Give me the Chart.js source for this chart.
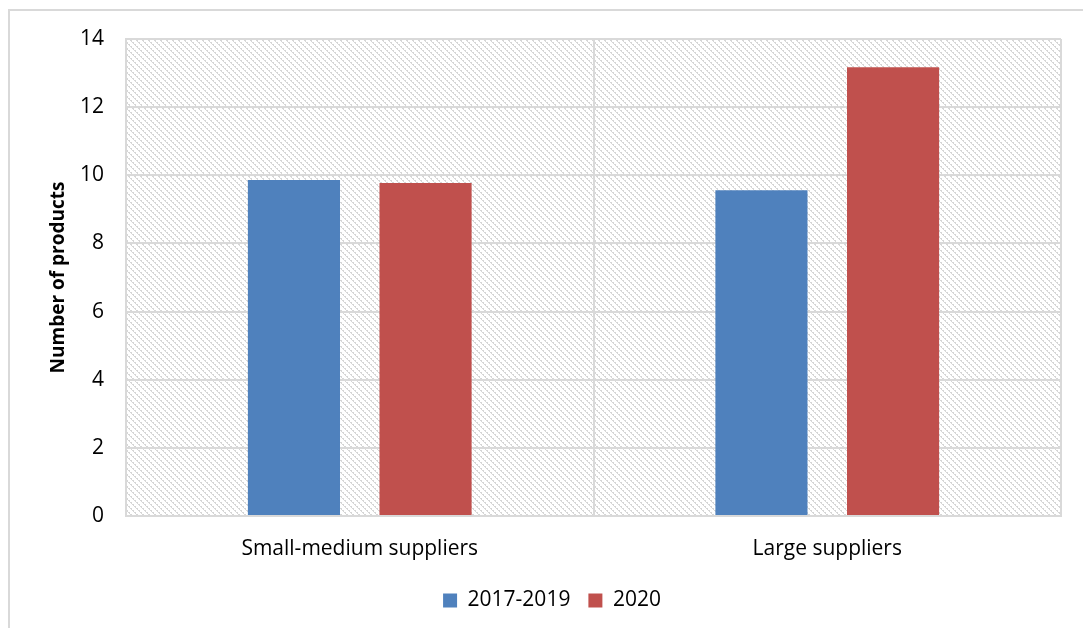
<!DOCTYPE html>
<html>
<head>
<meta charset="utf-8">
<script src="https://cdn.jsdelivr.net/npm/chart.js@4"></script>
<style>
  html, body { margin: 0; padding: 0; background: #fff; }
  #wrap { width: 1083px; height: 628px; }
</style>
</head>
<body>
<div id="wrap"><canvas id="c" width="1083" height="628"></canvas></div>
<script>
const categories = ['Small-medium suppliers', 'Large suppliers'];
const period1 = [9.86, 9.56];   // 2017-2019
const period2 = [9.77, 13.17];  // 2020
const seriesNames = ['2017-2019', '2020'];
const yTicks = [0, 2, 4, 6, 8, 10, 12, 14];

const FONT = '"Open Sans", sans-serif';

// light grey downward-diagonal hatch for the plot area
function makeHatch() {
  const t = document.createElement('canvas');
  t.width = 6; t.height = 6;
  const g = t.getContext('2d');
  g.fillStyle = '#fff';
  g.fillRect(0, 0, 6, 6);
  g.fillStyle = '#d6d6d6';
  for (let i = 0; i < 6; i++) {
    g.fillRect(i, i, 1, 1);
    if (i % 2 === 0) g.fillRect((i + 1) % 6, i, 1, 1);
  }
  return g.createPattern(t, 'repeat');
}

const bgPlugin = {
  id: 'bg',
  beforeDraw(chart) {
    const { ctx, chartArea: a } = chart;
    ctx.save();
    ctx.fillStyle = makeHatch();
    ctx.fillRect(a.left, a.top, a.right - a.left, a.bottom - a.top);
    // outer frame (only left/top visible)
    ctx.strokeStyle = '#d9d9d9';
    ctx.lineWidth = 2;
    ctx.beginPath();
    ctx.moveTo(9, 628);
    ctx.lineTo(9, 10);
    ctx.lineTo(1083, 10);
    ctx.stroke();
    ctx.restore();
  }
};

new Chart(document.getElementById('c'), {
  type: 'bar',
  data: {
    labels: categories,
    datasets: [
      { label: seriesNames[0], data: period1, backgroundColor: '#4f81bd' },
      { label: seriesNames[1], data: period2, backgroundColor: '#c0504d' }
    ]
  },
  options: {
    responsive: false,
    animation: false,
    devicePixelRatio: 1,
    categoryPercentage: 0.563,
    barPercentage: 0.70,
    layout: { padding: { left: 43, top: 39, right: 22, bottom: 7 } },
    plugins: {
      legend: {
        position: 'bottom',
        labels: {
          color: '#000',
          font: { family: FONT, size: 21 },
          boxWidth: 14,
          boxHeight: 14,
          padding: 18
        }
      },
      tooltip: { enabled: false }
    },
    scales: {
      x: {
        grid: { color: '#d9d9d9', lineWidth: 2, offset: true, drawTicks: false },
        border: { color: '#d9d9d9', width: 2 },
        ticks: { color: '#000', font: { family: FONT, size: 21 }, padding: 20 },
        afterFit(s) { s.height = 56; }
      },
      y: {
        min: 0,
        max: 14,
        afterBuildTicks(s) { s.ticks = yTicks.map(v => ({ value: v })); },
        grid: { color: '#d9d9d9', lineWidth: 2, drawTicks: false },
        border: { color: '#d9d9d9', width: 2 },
        ticks: { color: '#000', font: { family: FONT, size: 21 }, padding: 22 },
        title: {
          display: true,
          text: 'Number of products',
          color: '#000',
          font: { family: FONT, size: 19, weight: 'bold' },
          padding: { top: 4, bottom: 4 }
        },
        afterFit(s) { s.width = 126 - 43; }
      }
    }
  },
  plugins: [bgPlugin]
});
</script>
</body>
</html>
